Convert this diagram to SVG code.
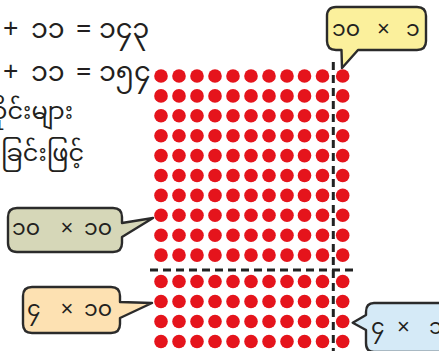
<svg xmlns="http://www.w3.org/2000/svg" xmlns:xlink="http://www.w3.org/1999/xlink" width="439" height="351" viewBox="0 0 439 351">
<style>
.t{font-family:"Noto Sans Myanmar","Padauk","Myanmar Text","Noto Sans",sans-serif;font-size:24px;fill:#231f20}
.m{font-size:27px}
.s{font-family:"Noto Sans Myanmar","Padauk","Myanmar Text","Noto Sans",sans-serif;font-size:22px;fill:#231f20}
.x{font-family:"Liberation Sans",Arial,sans-serif;font-size:22px}
.b{stroke:#2b2b2b;stroke-width:2.4;stroke-linejoin:round}
.d{fill:#e5141c}
.dash{stroke:#222;stroke-width:3;stroke-dasharray:8 5;fill:none}
</style>
<defs>
<g id="row">
<circle class="d" cx="161" cy="0" r="6.8"/><circle class="d" cx="179" cy="0" r="6.8"/><circle class="d" cx="197" cy="0" r="6.8"/><circle class="d" cx="215" cy="0" r="6.8"/><circle class="d" cx="233" cy="0" r="6.8"/><circle class="d" cx="251" cy="0" r="6.8"/><circle class="d" cx="269" cy="0" r="6.8"/><circle class="d" cx="287" cy="0" r="6.8"/><circle class="d" cx="304.5" cy="0" r="6.8"/><circle class="d" cx="322.5" cy="0" r="6.8"/><circle class="d" cx="342.7" cy="0" r="6.8"/>
</g>
</defs>
<rect width="439" height="351" fill="#fff"/>
<g id="text-lines">
<text class="t m" y="38"><tspan x="3">+</tspan><tspan x="31">၁၁</tspan><tspan x="76">=</tspan><tspan x="99">၁၄၃</tspan></text>
<text class="t m" y="81"><tspan x="3">+</tspan><tspan x="31">၁၁</tspan><tspan x="76">=</tspan><tspan x="99">၁၅၄</tspan></text>
<text class="t" x="73" y="119" text-anchor="end">ဝိုင်းများ</text>
<text class="t" x="84" y="161" text-anchor="end">ပေါင်းခြင်းဖြင့်</text>
</g>
<g id="dot-grid">
<use xlink:href="#row" y="76"/><use xlink:href="#row" y="95.9"/><use xlink:href="#row" y="115.8"/><use xlink:href="#row" y="135.7"/><use xlink:href="#row" y="155.6"/><use xlink:href="#row" y="175.5"/><use xlink:href="#row" y="195.4"/><use xlink:href="#row" y="215.3"/><use xlink:href="#row" y="235.2"/><use xlink:href="#row" y="255.1"/>
<use xlink:href="#row" y="281.5"/><use xlink:href="#row" y="301.5"/><use xlink:href="#row" y="321.5"/><use xlink:href="#row" y="341.5"/>
</g>
<g id="connectors">
<line class="dash" x1="333.3" y1="62" x2="333.3" y2="351"/>
<line class="dash" x1="150" y1="270" x2="358" y2="270"/>
</g>
<g id="bubble-10x1">
<path class="b" fill="#fbf09c" d="M336,7 H417 Q426,7 426,16 V41 Q426,50 417,50 H358 L342,68 L341.5,50 H336 Q327,50 327,41 V16 Q327,7 336,7 Z"/>
<text class="s" y="36"><tspan x="332">၁၀</tspan><tspan class="x" x="377">×</tspan><tspan x="406">၁</tspan></text>
</g>
<g id="bubble-10x10">
<path class="b" fill="#d6d7b8" d="M17,208 H113 Q122,208 122,217 V223 L153,218 L122,237 V243 Q122,252 113,252 H17 Q8,252 8,243 V217 Q8,208 17,208 Z"/>
<text class="s" y="235"><tspan x="12">၁၀</tspan><tspan class="x" x="60.5">×</tspan><tspan x="84">၁၀</tspan></text>
</g>
<g id="bubble-4x10">
<path class="b" fill="#fde1b2" d="M32,287 H111 Q120,287 120,296 V302 L152,303 L120,318 V324 Q120,333 111,333 H32 Q23,333 23,324 V296 Q23,287 32,287 Z"/>
<text class="s" y="316"><tspan x="27">၄</tspan><tspan class="x" x="60.5">×</tspan><tspan x="84">၁၀</tspan></text>
</g>
<g id="bubble-4x1">
<path class="b" fill="#d5eaf7" d="M445,303 H374 Q366,303 366,312 V315 L352.7,322.7 L366,330 V343 Q366,352 374,352 H445"/>
<text class="s" y="334"><tspan x="371">၄</tspan><tspan class="x" x="397">×</tspan><tspan x="429">၁</tspan></text>
</g>
</svg>
